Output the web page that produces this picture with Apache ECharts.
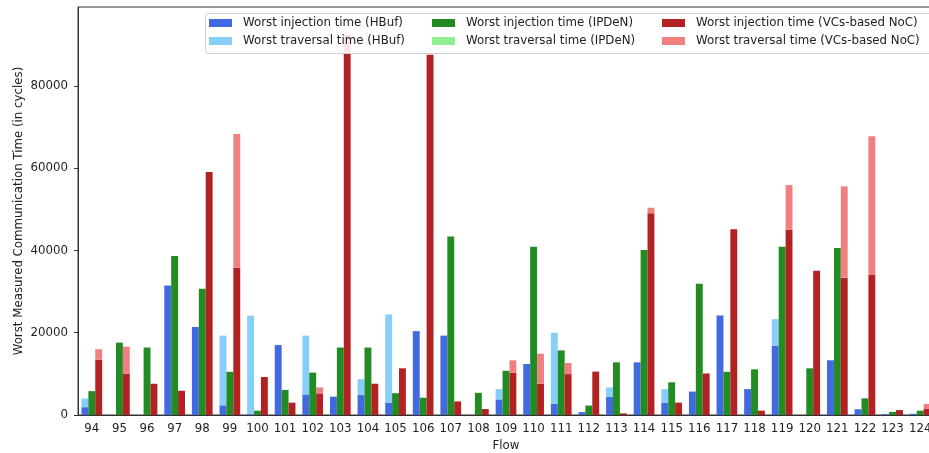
<!DOCTYPE html>
<html>
<head>
<meta charset="utf-8">
<script src="https://cdn.jsdelivr.net/npm/echarts@6/dist/echarts.min.js"></script>
<style>
html,body{margin:0;padding:0;background:#fff;}
#chart{width:929px;height:453px;}
</style>
</head>
<body>
<div id="chart"></div>
<script>
const flows = ['94','95','96','97','98','99','100','101','102','103','104','105','106','107','108','109','110','111','112','113','114','115','116','117','118','119','120','121','122','123','124'];

const hbufInjection = [1900,0,0,31500,21400,2350,200,17000,5000,4450,4850,3000,20400,19300,0,3800,12400,2700,700,4450,12800,3000,5700,24200,6300,16800,0,13300,1400,200,300];
const hbufTraversal = [2100,0,0,0,0,16950,23950,0,14300,0,3850,21450,0,0,0,2500,0,17300,0,2250,0,3300,0,0,0,6500,0,0,0,0,0];

const ipdenInjection = [5800,17600,16400,38650,30700,10500,1050,6100,10300,16400,16400,5300,4200,43400,5400,10750,40900,15700,2300,12800,40100,7950,31900,10500,11100,40900,11350,40600,4050,750,1050];
const ipdenTraversal = [0,0,0,0,0,0,0,0,0,0,0,0,0,0,0,0,0,0,0,0,0,0,0,0,0,0,0,0,0,0,0];

const vcsInjection = [13450,10050,7600,5900,59100,35800,9250,3000,5250,87900,7600,11350,87600,3300,1450,10300,7600,9950,10550,400,49050,3000,10100,45150,1050,45000,35100,33400,34050,1200,1450];
const vcsTraversal = [2550,6550,0,0,0,32500,0,0,1450,4600,0,0,0,0,0,3000,7300,2700,0,0,1350,0,0,0,0,10900,0,22200,33700,0,1250];

const yTicks = [0,20000,40000,60000,80000];

const names = [
  'Worst injection time (HBuf)','Worst traversal time (HBuf)',
  'Worst injection time (IPDeN)','Worst traversal time (IPDeN)',
  'Worst injection time (VCs-based NoC)','Worst traversal time (VCs-based NoC)'
];
const colors = ['#4169E1','#87CEFA','#228B22','#90EE90','#B22222','#F08080'];
const dataSets = [hbufInjection,hbufTraversal,ipdenInjection,ipdenTraversal,vcsInjection,vcsTraversal];
const stacks = ['h','h','i','i','v','v'];

const FONT = 'DejaVu Sans';
const series = names.map((n,i)=>({
  name:n, type:'bar', stack:stacks[i], data:dataSets[i],
  barWidth:'25%', barGap:'0%',
  itemStyle:{color:colors[i]},
  z:2
}));

function legendCol(idx,left){
  return {
    data:[names[idx],names[idx+1]], orient:'vertical', left:left, top:16,
    padding:0, itemGap:4, itemWidth:23, itemHeight:8, icon:'rect',
    selectedMode:false, z:5,
    textStyle:{fontFamily:FONT,fontSize:11.8,color:'#222',lineHeight:14,padding:[0,0,0,6]}
  };
}

const chart = echarts.init(document.getElementById('chart'),null,{renderer:'canvas'});
chart.setOption({
  animation:false,
  backgroundColor:'#fff',
  grid:{left:78,top:7,width:856,height:408,show:true,borderColor:'#333',borderWidth:1,backgroundColor:'transparent',
    outerBoundsMode:'none',containLabel:false},
  legend:[legendCol(0,209),legendCol(2,432),legendCol(4,662)],
  graphic:[{
    type:'rect', left:205, top:13, z:3,
    shape:{width:730,height:40,r:3},
    style:{fill:'rgba(255,255,255,0.8)',stroke:'#d0d0d0',lineWidth:1}
  }],
  xAxis:{
    type:'category', data:flows,
    name:'Flow', nameLocation:'middle', nameGap:25, nameMoveOverlap:false,
    nameTextStyle:{fontFamily:FONT,fontSize:11.8,color:'#222'},
    axisLine:{lineStyle:{color:'#333'}},
    axisTick:{alignWithLabel:true,length:4,lineStyle:{color:'#333'}},
    axisLabel:{fontFamily:FONT,fontSize:11.8,color:'#222',margin:8,interval:0},
    splitLine:{show:false}
  },
  yAxis:{
    type:'value', min:0, max:99200, interval:20000,
    name:'Worst Measured Communication Time (in cycles)', nameLocation:'middle', nameGap:53, nameMoveOverlap:false,
    nameTextStyle:{fontFamily:FONT,fontSize:11.8,color:'#222'},
    axisLine:{show:true,lineStyle:{color:'#333'}},
    axisTick:{show:true,length:4,lineStyle:{color:'#333'}},
    axisLabel:{fontFamily:FONT,fontSize:11.8,color:'#222',margin:10,showMaxLabel:false,
      formatter:v=>yTicks.includes(v)?String(v):''},
    splitLine:{show:false}
  },
  series:series
});
</script>
</body>
</html>
